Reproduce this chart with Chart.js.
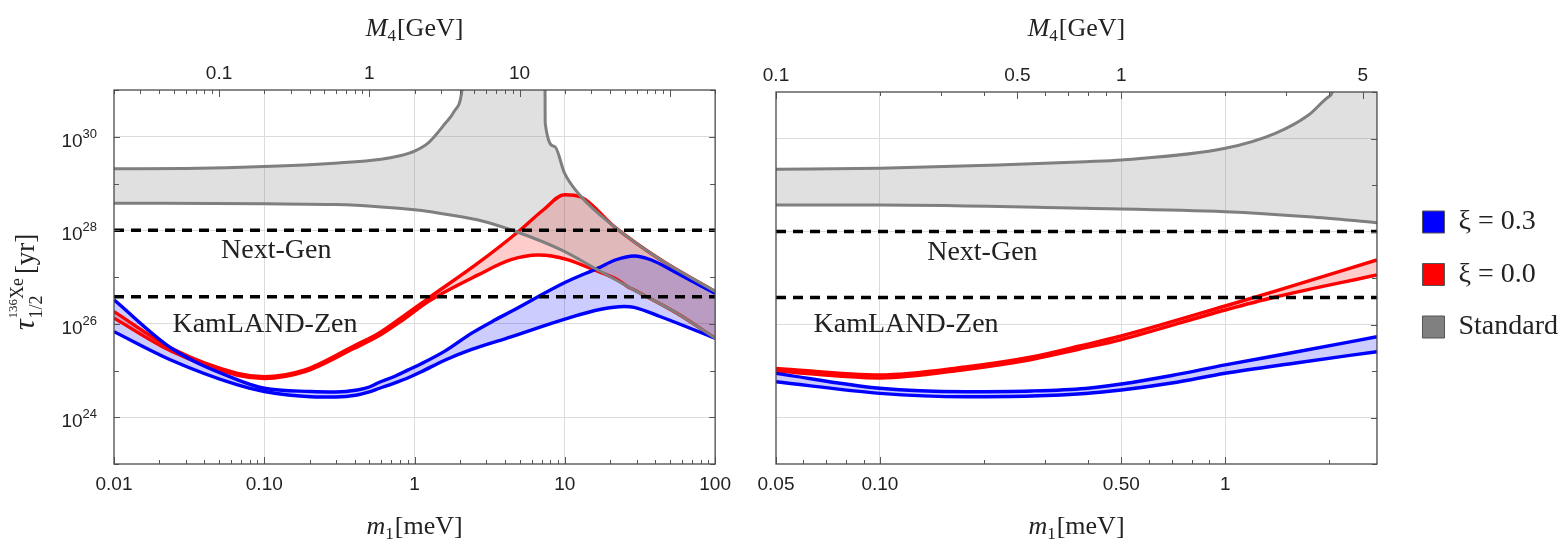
<!DOCTYPE html>
<html><head><meta charset="utf-8">
<script src="https://cdn.jsdelivr.net/npm/chart.js@4.4.1/dist/chart.umd.min.js"></script>
<style>
html,body{margin:0;padding:0;background:#fff;}
#wrap{position:relative;width:1568px;height:543px;overflow:hidden;background:#fff;}
canvas{position:absolute;top:0;}
#cl{left:0;} #cr{left:740px;}
</style></head><body>
<div id="wrap"><canvas id="cl" width="740" height="543"></canvas><canvas id="cr" width="828" height="543"></canvas></div>
<script>
// ---------------- DATA ----------------
// Left panel  (m1 in meV, tau in yr)
const leftM1GrayUpper  = [0.01, 0.03, 0.1, 0.31, 0.6, 0.783, 1.0, 1.24, 1.6, 1.83, 2.06, 2.2, 7.35, 7.40, 8.55, 9.95, 12.8, 21.3, 43.4, 100];
const leftTauGrayUpper = [2.07e29, 2.1e29, 2.3e29, 2.75e29, 3.3e29, 3.87e29, 4.95e29, 7.53e29, 1.94e30, 3.44e30, 9.2e30, 1e32, 1e32, 1.95e30, 6.2e29, 1.66e29, 5.25e28, 1.2e28, 2.34e27, 4.9e26];
const leftM1GrayLower  = [0.01, 0.1, 0.3, 0.6, 1.0, 1.24, 2.65, 4.76, 9.46, 16.6, 29.0, 56.0, 100];
const leftTauGrayLower = [3.8e28, 3.67e28, 3.55e28, 3.16e28, 2.74e28, 2.51e28, 1.66e28, 9.3e27, 3.8e27, 1.41e27, 5.25e26, 1.66e26, 4.9e25];
const leftM1BlueUpper  = [0.01, 0.0241, 0.0665, 0.1, 0.204, 0.3, 0.415, 0.5, 0.578, 0.726, 0.9, 1.1, 1.6, 2.4, 3.42, 4.38, 10, 16.6, 21.9, 28.9, 37.3, 56, 100];
const leftTauBlueUpper = [3.24e26, 2.99e25, 6.3e24, 4.17e24, 3.55e24, 3.47e24, 3.83e24, 4.44e24, 5.53e24, 7.36e24, 1.02e25, 1.38e25, 2.63e25, 6.3e25, 1.2e26, 1.82e26, 7.6e26, 1.55e27, 2.34e27, 2.82e27, 2.34e27, 1.2e27, 4.47e26];
const leftM1BlueLower  = [0.01, 0.0241, 0.0665, 0.1, 0.204, 0.3, 0.415, 0.5, 0.578, 0.726, 0.9, 1.1, 1.6, 2.4, 4.38, 10, 17.4, 24.8, 28.9, 43.4, 100];
const leftTauBlueLower = [6.76e25, 1.66e25, 4.9e24, 3.55e24, 2.75e24, 2.71e24, 2.99e24, 3.47e24, 4.12e24, 5.32e24, 6.92e24, 9.3e24, 1.68e25, 2.82e25, 5.25e25, 1.26e26, 2.04e26, 2.34e26, 2.24e26, 1.41e26, 4.9e25];
const leftM1RedUpper   = [0.01, 0.0241, 0.0665, 0.1, 0.184, 0.394, 0.578, 0.843, 1.24, 2.65, 4.89, 7.21, 9.95, 12.8, 21.3, 43.4, 100];
const leftTauRedUpper  = [1.82e26, 2.99e25, 8.7e24, 7.4e24, 1.02e25, 3.35e25, 6.3e25, 1.46e26, 3.55e26, 2.0e27, 9.3e27, 2.75e28, 5.75e28, 5.13e28, 1.2e28, 2.34e27, 4.9e26];
const leftM1RedLower   = [0.01, 0.0241, 0.0665, 0.1, 0.184, 0.394, 0.578, 0.843, 1.24, 2.65, 4.38, 6.66, 8.16, 10.4, 15.7, 22.4, 26.2, 29.0, 56.0, 100];
const leftTauRedLower  = [1.32e26, 2.57e25, 7.9e24, 6.76e24, 9.3e24, 2.95e25, 5.5e25, 1.23e26, 3.02e26, 1.11e27, 2.34e27, 2.95e27, 2.82e27, 2.34e27, 1.41e27, 8.7e26, 6.2e26, 5.25e26, 1.66e26, 4.9e25];

// Right panel
const rightM1GrayUpper  = [0.05, 0.1, 0.22, 0.393, 0.5, 1.0, 1.396, 1.743, 1.993, 2.038, 2.1, 2.75];
const rightTauGrayUpper = [2.18e29, 2.29e29, 2.69e29, 3.17e29, 3.45e29, 6.15e29, 1.29e30, 3.2e30, 7.9e30, 9.7e30, 1e32, 1e32];
const rightM1GrayLower  = [0.05, 0.1, 0.393, 1.0, 1.743, 2.75];
const rightTauGrayLower = [3.72e28, 3.72e28, 3.15e28, 2.67e28, 2.08e28, 1.55e28];
const rightM1Red        = [0.05, 0.1, 0.177, 0.275, 0.379, 0.5, 1.0, 1.396, 2.75];
const rightTauRedUpper  = [1.14e25, 8.2e24, 1.22e25, 2.0e25, 3.45e25, 5.66e25, 2.5e26, 5.25e26, 2.44e27];
const rightTauRedLower  = [1.0e25, 7.08e24, 1.08e25, 1.77e25, 2.97e25, 4.75e25, 2.05e26, 3.9e26, 1.16e27];
const rightM1Blue       = [0.05, 0.1, 0.177, 0.275, 0.393, 0.5, 0.7, 1.0, 1.6, 2.75];
const rightTauBlueUpper = [8.9e24, 4.25e24, 3.59e24, 3.72e24, 4.21e24, 5.25e24, 8.0e24, 1.35e25, 2.56e25, 5.47e25];
const rightTauBlueLower = [5.89e24, 3.31e24, 2.8e24, 2.9e24, 3.28e24, 3.9e24, 5.52e24, 8.93e24, 1.49e25, 2.6e25];

// Experimental limits (yr)
const limitNames  = ['Next-Gen', 'KamLAND-Zen'];
const limitValues = [1e28, 3.8e26];
// annotation anchors [m1, tau] (baseline centre)
const leftLabelPos  = [[0.12, 2.5e27], [0.101, 6.76e25]];
const rightLabelPos = [[0.198, 2.44e27], [0.119, 7.0e25]];

// Axes
const leftXRange   = [0.01, 100];
const leftM4Range  = [0.02, 200];
const rightXRange  = [0.05, 2.75];
const rightM4Range = [0.1, 5.5];
const tauRange     = [1e23, 1e31];
const leftXTicks   = [0.01, 0.1, 1, 10, 100];
const leftXTickLabels = ['0.01', '0.10', '1', '10', '100'];
const leftXGrid    = [0.1, 1, 10];
const leftM4Ticks  = [0.1, 1, 10];
const leftM4TickLabels = ['0.1', '1', '10'];
const rightXTicks  = [0.05, 0.1, 0.5, 1];
const rightXTickLabels = ['0.05', '0.10', '0.50', '1'];
const rightXGrid   = [0.1, 0.5, 1];
const rightM4Ticks = [0.1, 0.5, 1, 5];
const rightM4TickLabels = ['0.1', '0.5', '1', '5'];
const tauTicks     = [1e24, 1e26, 1e28, 1e30];
const tauTickBase  = ['10', '10', '10', '10'];
const tauTickExp   = ['24', '26', '28', '30'];
const tauDecades   = [1e23, 1e24, 1e25, 1e26, 1e27, 1e28, 1e29, 1e30, 1e31];

const legendLabels = ['ξ = 0.3', 'ξ = 0.0', 'Standard'];
const legendColors = ['#0000ff', '#ff0000', '#808080'];

// ---------------- helpers ----------------
const BLUE = '#0000ff', RED = '#ff0000', GRAY = '#7f7f7f';
const INK = '#222';
function pts(xs, ys) { return xs.map((x, i) => ({x: x, y: ys[i]})); }
function logMinor(lo, hi) {
  const out = [];
  for (let e = Math.floor(Math.log10(lo)) - 1; e <= Math.ceil(Math.log10(hi)); e++) {
    for (let d = 1; d <= 9; d++) {
      const v = parseFloat((d * Math.pow(10, e)).toPrecision(6));
      if (v >= lo * 0.9999 && v <= hi * 1.0001) out.push(v);
    }
  }
  return out;
}
function lineDs(label, data, color, fill, extra) {
  return Object.assign({
    label: label, data: data, borderColor: color, borderWidth: 3.4,
    pointRadius: 0, pointHoverRadius: 0, fill: fill,
    cubicInterpolationMode: 'monotone', borderJoinStyle: 'round'
  }, extra || {});
}
function buildDatasets(p, xr) {
  return [
    lineDs(limitNames[0], [{x: xr[0], y: limitValues[0]}, {x: xr[1], y: limitValues[0]}], '#000', false, {borderDash: [10, 7], borderWidth: 3.5, cubicInterpolationMode: 'default', tension: 0}),
    lineDs(limitNames[1], [{x: xr[0], y: limitValues[1]}, {x: xr[1], y: limitValues[1]}], '#000', false, {borderDash: [10, 7], borderWidth: 3.5, cubicInterpolationMode: 'default', tension: 0}),
    lineDs('Standard', pts(p.gux, p.guy), GRAY, {target: 3}, {backgroundColor: 'rgba(128,128,128,0.245)', borderWidth: 3}),
    lineDs('Standard (lower)', pts(p.glx, p.gly), GRAY, false, {borderWidth: 3}),
    lineDs('ξ = 0.3', pts(p.bux, p.buy), BLUE, {target: 5}, {backgroundColor: 'rgba(0,0,255,0.2)'}),
    lineDs('ξ = 0.3 (lower)', pts(p.blx, p.bly), BLUE, false),
    lineDs('ξ = 0.0', pts(p.rux, p.ruy), RED, {target: 7}, {backgroundColor: 'rgba(255,0,0,0.2)'}),
    lineDs('ξ = 0.0 (lower)', pts(p.rlx, p.rly), RED, false)
  ];
}

// frame + inward ticks
const framePlugin = {
  id: 'frame',
  afterDatasetsDraw(chart, args, o) {
    const ctx = chart.ctx, a = chart.chartArea;
    ctx.save();
    ctx.strokeStyle = '#555';
    ctx.lineWidth = 1;
    for (const s of o.specs) {
      const sc = chart.scales[s.scale];
      for (const v of s.values) {
        const p = Math.round(sc.getPixelForValue(v)) + 0.5;
        const isMajor = s.major.some(m => Math.abs(m - v) / m < 1e-6);
        const len = isMajor ? s.majorLen : s.minorLen;
        ctx.beginPath();
        if (s.side === 'bottom') { ctx.moveTo(p, a.bottom); ctx.lineTo(p, a.bottom - len); }
        else if (s.side === 'top') { ctx.moveTo(p, a.top); ctx.lineTo(p, a.top + len); }
        else if (s.side === 'left') { ctx.moveTo(a.left, p); ctx.lineTo(a.left + len, p); }
        else { ctx.moveTo(a.right, p); ctx.lineTo(a.right - len, p); }
        ctx.stroke();
      }
    }
    ctx.lineWidth = 1.3; ctx.strokeStyle = '#4a4a4a';
    ctx.strokeRect(a.left, a.top, a.right - a.left, a.bottom - a.top);
    ctx.restore();
  }
};

function drawMassTitle(ctx, cx, base, sym, sub, unit) {
  const f1 = 'italic 26px "Liberation Serif"', f2 = '17px "Liberation Serif"', f3 = '26px "Liberation Serif"';
  ctx.font = f1; const w1 = ctx.measureText(sym).width;
  ctx.font = f2; const w2 = ctx.measureText(sub).width;
  ctx.font = f3; const w3 = ctx.measureText(unit).width;
  const W = w1 + w2 + 1 + w3; let x = cx - W / 2;
  ctx.textBaseline = 'alphabetic'; ctx.textAlign = 'left'; ctx.fillStyle = INK;
  ctx.font = f1; ctx.fillText(sym, x, base); x += w1;
  ctx.font = f2; ctx.fillText(sub, x, base + 5); x += w2 + 1;
  ctx.font = f3; ctx.fillText(unit, x, base);
}
function drawTauTitle(ctx, bx, cy) {
  ctx.save();
  ctx.translate(bx, cy); ctx.rotate(-Math.PI / 2);
  const fT = 'italic 30px "Liberation Serif"', fS1 = '13px "Liberation Serif"', fS2 = '18px "Liberation Serif"', fU = '27px "Liberation Serif"';
  ctx.font = fT; const wT = ctx.measureText('τ').width;
  ctx.font = fS1; const w136 = ctx.measureText('136').width;
  ctx.font = fS2; const wXe = ctx.measureText('Xe').width; const wSub = ctx.measureText('1/2').width;
  ctx.font = fU; const wU = ctx.measureText('[yr]').width;
  const g = Math.max(w136 + wXe, wSub);
  const W = wT + 1 + g + 4 + wU;
  let x0 = -W / 2;
  ctx.fillStyle = INK; ctx.textBaseline = 'alphabetic'; ctx.textAlign = 'left';
  ctx.font = fT; ctx.fillText('τ', x0, 0);
  const xs = x0 + wT + 1;
  ctx.font = fS1; ctx.fillText('136', xs, -17);
  ctx.font = fS2; ctx.fillText('Xe', xs + w136, -11);
  ctx.font = fS2; ctx.fillText('1/2', xs, 8);
  ctx.font = fU; ctx.fillText('[yr]', xs + g + 4, 0);
  ctx.restore();
}
const textPlugin = {
  id: 'texts',
  afterDraw(chart, args, o) {
    const ctx = chart.ctx, a = chart.chartArea;
    ctx.save();
    ctx.beginPath(); ctx.rect(a.left, a.top, a.right - a.left, a.bottom - a.top); ctx.clip();
    ctx.font = '28px "Liberation Serif"'; ctx.fillStyle = INK;
    ctx.textAlign = 'center'; ctx.textBaseline = 'alphabetic';
    o.labels.forEach((pos, i) => {
      ctx.fillText(limitNames[i], chart.scales.x.getPixelForValue(pos[0]), chart.scales.y.getPixelForValue(pos[1]));
    });
    ctx.restore();
    ctx.save();
    const cx = (a.left + a.right) / 2;
    drawMassTitle(ctx, cx, 35.5, 'M', '4', '[GeV]');
    drawMassTitle(ctx, cx, 534, 'm', '1', '[meV]');
    if (o.yTitle) {
      drawTauTitle(ctx, 34, 282);
      // y tick labels: 10 with superscript exponent
      const ys = chart.scales.y;
      ctx.fillStyle = INK; ctx.textAlign = 'right'; ctx.textBaseline = 'alphabetic';
      tauTicks.forEach((v, i) => {
        const py = ys.getPixelForValue(v);
        const xr = a.left - 17;
        ctx.font = '13px "Liberation Sans"';
        const we = ctx.measureText(tauTickExp[i]).width;
        ctx.fillText(tauTickExp[i], xr, py + 1);
        ctx.font = '19px "Liberation Sans"';
        ctx.fillText(tauTickBase[i], xr - we, py + 10);
      });
    }
    ctx.restore();
  }
};

const tickFont = {family: '"Liberation Sans", Arial, sans-serif', size: 19};
function xScale(range, ticks, labels, grid, pos, h) {
  return {
    type: 'logarithmic', position: pos, min: range[0], max: range[1],
    afterBuildTicks: s => { s.ticks = ticks.map(v => ({value: v})); },
    afterFit: s => { s.height = h; },
    ticks: {callback: (v, i) => labels[i], font: tickFont, color: INK, padding: pos === 'bottom' ? 9 : 5, maxRotation: 0, minRotation: 0, autoSkip: false},
    grid: grid ? {color: c => (c.tick && grid.indexOf(c.tick.value) >= 0) ? '#dcdcdc' : 'rgba(0,0,0,0)', lineWidth: 1, drawTicks: false} : {display: false, drawTicks: false},
    border: {display: false}
  };
}
function yScale(pos, w, withGrid) {
  return {
    type: 'logarithmic', position: pos, min: tauRange[0], max: tauRange[1],
    display: w !== null,
    afterBuildTicks: s => { s.ticks = tauTicks.map(v => ({value: v})); },
    afterFit: s => { if (w !== null) s.width = w; },
    ticks: {display: false, autoSkip: false},
    grid: withGrid ? {color: '#dcdcdc', lineWidth: 1, drawTicks: false} : {display: false, drawTicks: false},
    border: {display: false}
  };
}

// ---------------- LEFT CHART ----------------
new Chart(document.getElementById('cl'), {
  type: 'line',
  data: {datasets: buildDatasets({
    gux: leftM1GrayUpper, guy: leftTauGrayUpper, glx: leftM1GrayLower, gly: leftTauGrayLower,
    bux: leftM1BlueUpper, buy: leftTauBlueUpper, blx: leftM1BlueLower, bly: leftTauBlueLower,
    rux: leftM1RedUpper, ruy: leftTauRedUpper, rlx: leftM1RedLower, rly: leftTauRedLower
  }, leftXRange)},
  options: {
    responsive: false, animation: false, devicePixelRatio: 1,
    layout: {padding: {left: 0, right: 21, top: 0, bottom: 0}},
    scales: {
      x: xScale(leftXRange, leftXTicks, leftXTickLabels, leftXGrid, 'bottom', 79),
      x2: xScale(leftM4Range, leftM4Ticks, leftM4TickLabels, null, 'top', 90),
      y: yScale('left', 114, true)
    },
    plugins: {
      legend: {display: false}, tooltip: {enabled: false},
      filler: {drawTime: 'beforeDatasetsDraw'},
      frame: {specs: [
        {scale: 'x', side: 'bottom', values: logMinor(leftXRange[0], leftXRange[1]), major: leftXTicks, majorLen: 7, minorLen: 4},
        {scale: 'x2', side: 'top', values: logMinor(leftM4Range[0], leftM4Range[1]), major: [0.1, 1, 10, 100], majorLen: 7, minorLen: 4},
        {scale: 'y', side: 'left', values: tauDecades, major: tauTicks, majorLen: 6, minorLen: 5},
        {scale: 'y', side: 'right', values: tauDecades, major: tauTicks, majorLen: 6, minorLen: 5}
      ]},
      texts: {labels: leftLabelPos, yTitle: true}
    }
  },
  plugins: [framePlugin, textPlugin]
});

// ---------------- RIGHT CHART ----------------
new Chart(document.getElementById('cr'), {
  type: 'line',
  data: {datasets: buildDatasets({
    gux: rightM1GrayUpper, guy: rightTauGrayUpper, glx: rightM1GrayLower, gly: rightTauGrayLower,
    bux: rightM1Blue, buy: rightTauBlueUpper, blx: rightM1Blue, bly: rightTauBlueLower,
    rux: rightM1Red, ruy: rightTauRedUpper, rlx: rightM1Red, rly: rightTauRedLower
  }, rightXRange)},
  options: {
    responsive: false, animation: false, devicePixelRatio: 1,
    layout: {padding: {left: 36, right: 0, top: 6, bottom: 0}},
    scales: {
      x: xScale(rightXRange, rightXTicks, rightXTickLabels, rightXGrid, 'bottom', 79),
      x2: xScale(rightM4Range, rightM4Ticks, rightM4TickLabels, null, 'top', 86),
      y: yScale('left', null, false),
      y2: yScale('right', 21, true)
    },
    plugins: {
      tooltip: {enabled: false},
      filler: {drawTime: 'beforeDatasetsDraw'},
      legend: {
        display: true, position: 'right', align: 'center',
        labels: {
          boxWidth: 22, boxHeight: 22, padding: 24.5, color: INK,
          font: {family: '"Liberation Serif", serif', size: 28},
          generateLabels: () => legendLabels.map((t, i) => ({
            text: t, fillStyle: legendColors[i], strokeStyle: '#555', lineWidth: 1,
            hidden: false, datasetIndex: [4, 6, 2][i], fontColor: INK
          }))
        }
      },
      frame: {specs: [
        {scale: 'x', side: 'bottom', values: logMinor(rightXRange[0], rightXRange[1]), major: rightXTicks, majorLen: 7, minorLen: 4},
        {scale: 'x2', side: 'top', values: logMinor(rightM4Range[0], rightM4Range[1]), major: rightM4Ticks, majorLen: 7, minorLen: 4},
        {scale: 'y', side: 'right', values: tauDecades, major: tauTicks, majorLen: 6, minorLen: 5}
      ]},
      texts: {labels: rightLabelPos, yTitle: false}
    }
  },
  plugins: [framePlugin, textPlugin]
});
</script>
</body></html>
